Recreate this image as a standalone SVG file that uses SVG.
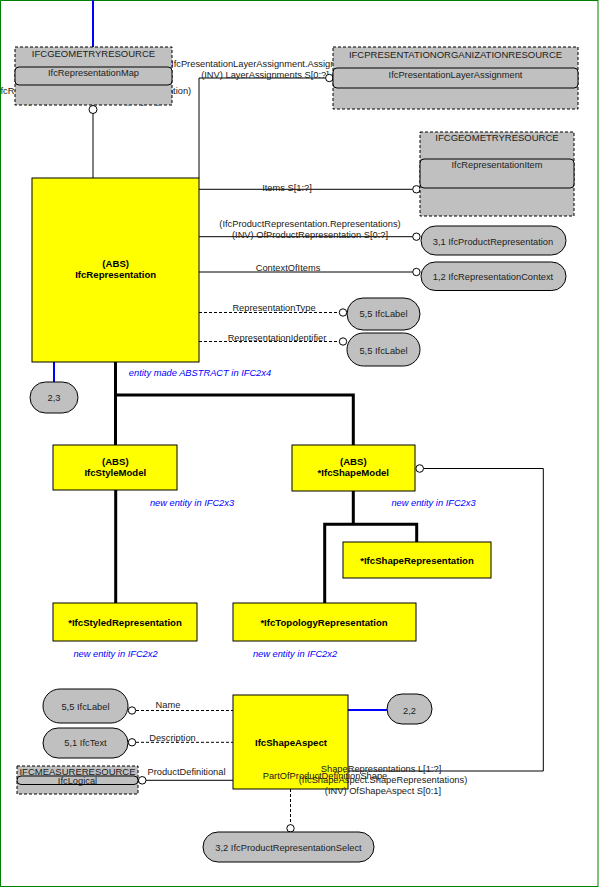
<svg xmlns="http://www.w3.org/2000/svg" width="600" height="888" viewBox="0 0 600 888">
<style>
text{font-family:"Liberation Sans",Arial,sans-serif;font-size:9.3px;fill:#202020}
.ent{fill:#ffff00;stroke:#000;stroke-width:1}
.ref{fill:#c0c0c0;stroke:#000;stroke-width:1;stroke-dasharray:3,2}
.inner{fill:#c0c0c0;stroke:#000;stroke-width:1}
.pill{fill:#c0c0c0;stroke:#000;stroke-width:1}
.b{font-weight:bold;font-size:9.6px;fill:#000}
.c{text-anchor:middle}
.note{font-style:italic;fill:#0000ff;text-anchor:middle}
.ln{fill:none;stroke:#000;stroke-width:1}
.dash{fill:none;stroke:#000;stroke-width:1;stroke-dasharray:3,2}
.inh{fill:none;stroke:#000;stroke-width:3}
.blue{fill:none;stroke:#0000ff;stroke-width:2}
.o{fill:#fff;stroke:#000;stroke-width:1}
</style>
<rect x="0.5" y="0.5" width="597.5" height="886" fill="#fff" stroke="#008000" stroke-width="1"/>
<g id="connectors">
<path class="blue" d="M93 0V47"/>
<path class="ln" d="M93 113.5V178"/>
<circle class="o" cx="93" cy="109.5" r="4"/>
<text class="c" x="93" y="94">(IfcRepresentationMap.MappedRepresentation)</text>
<text class="c" x="93" y="104">(INV) RepresentationMap S[0:1]</text>
<path class="ln" d="M199 178V78H325.5"/>
<text x="168" y="67">(IfcPresentationLayerAssignment.AssignedItems)</text>
<text class="c" x="265" y="78">(INV) LayerAssignments S[0:?]</text>
<circle class="o" cx="329.3" cy="78" r="3.7"/>
<path class="ln" d="M199 189.3H412.7"/>
<text class="c" x="287" y="191">Items S[1:?]</text>
<circle class="o" cx="416.4" cy="189.3" r="3.7"/>
<path class="ln" d="M199 236.7H412.7"/>
<text class="c" x="310" y="227">(IfcProductRepresentation.Representations)</text>
<text class="c" x="310" y="238">(INV) OfProductRepresentation S[0:?]</text>
<circle class="o" cx="416.4" cy="236.7" r="3.7"/>
<path class="ln" d="M199 272H412.7"/>
<text class="c" x="288" y="271">ContextOfItems</text>
<circle class="o" cx="416.4" cy="272" r="3.7"/>
<path class="dash" d="M199 312.5H339.3"/>
<text class="c" x="274" y="311">RepresentationType</text>
<circle class="o" cx="343" cy="312.5" r="3.7"/>
<path class="dash" d="M199 341.5H339.3"/>
<text class="c" x="277" y="341">RepresentationIdentifier</text>
<circle class="o" cx="343" cy="341.5" r="3.7"/>
<path class="blue" d="M54 362V382"/>
<path class="inh" d="M115.5 362V445M115.5 395H353.3V445"/>
<path class="inh" d="M115.7 490V603"/>
<path class="inh" d="M353.3 491V524.3M324.7 603V524.3H416.7V542"/>
<path class="ln" d="M423.5 468.5H543.3V771H348"/>
<circle class="o" cx="419.7" cy="468.5" r="3.8"/>
<path class="dash" d="M136 710.5H233"/>
<text class="c" x="168" y="708">Name</text>
<circle class="o" cx="132" cy="710.5" r="3.7"/>
<path class="dash" d="M136 742.3H233"/>
<text class="c" x="172.5" y="741">Description</text>
<circle class="o" cx="132" cy="742.3" r="3.7"/>
<path class="ln" d="M146 780.3H233"/>
<text class="c" x="186.5" y="775">ProductDefinitional</text>
<circle class="o" cx="142.2" cy="780.3" r="3.8"/>
<path class="blue" d="M348 710H387"/>
<path class="dash" d="M290.5 789V824.5"/>
<circle class="o" cx="290.5" cy="828.3" r="3.7"/>
</g>
<g id="IfcRepresentationMap">
<rect class="ref" x="15" y="47" width="157" height="58"/>
<rect class="inner" x="15" y="67" width="157" height="18" rx="4"/>
<text class="c" x="93.5" y="57" style="font-size:9.5px">IFCGEOMETRYRESOURCE</text>
<text class="c" x="93.5" y="76">IfcRepresentationMap</text>
</g>
<g id="IfcPresentationLayerAssignment">
<rect class="ref" x="333" y="47" width="245" height="62"/>
<rect class="inner" x="333" y="68" width="245" height="20" rx="4"/>
<text class="c" x="455.5" y="58" style="font-size:9.5px">IFCPRESENTATIONORGANIZATIONRESOURCE</text>
<text class="c" x="455.5" y="78">IfcPresentationLayerAssignment</text>
</g>
<g id="IfcRepresentationItem">
<rect class="ref" x="420" y="132" width="154" height="84"/>
<rect class="inner" x="420" y="159" width="154" height="29" rx="4"/>
<text class="c" x="497" y="141" style="font-size:9.5px">IFCGEOMETRYRESOURCE</text>
<text class="c" x="497" y="168">IfcRepresentationItem</text>
</g>
<g id="IfcRepresentation">
<rect class="ent" x="32" y="178" width="167" height="184"/>
<text class="b c" x="115.7" y="266.5">(ABS)</text>
<text class="b c" x="115.7" y="277.5">IfcRepresentation</text>
</g>
<g id="IfcProductRepresentation">
<rect class="pill" x="421" y="226" width="145" height="29" rx="14.5"/>
<text class="c" x="493" y="245">3,1 IfcProductRepresentation</text>
</g>
<g id="IfcRepresentationContext">
<rect class="pill" x="421" y="262" width="145" height="28.5" rx="14.2"/>
<text class="c" x="493" y="279.5">1,2 IfcRepresentationContext</text>
</g>
<g id="IfcLabel1">
<rect class="pill" x="347" y="298" width="73" height="32" rx="16"/>
<text class="c" x="383.5" y="317">5,5 IfcLabel</text>
</g>
<g id="IfcLabel2">
<rect class="pill" x="347" y="333" width="73" height="33" rx="16.5"/>
<text class="c" x="383.5" y="353.5">5,5 IfcLabel</text>
</g>
<g id="page23">
<rect class="pill" x="30" y="382" width="48" height="31" rx="15.5"/>
<text class="c" x="54" y="401">2,3</text>
</g>
<text class="note" x="200" y="376">entity made ABSTRACT in IFC2x4</text>
<g id="IfcStyleModel">
<rect class="ent" x="53" y="445" width="124" height="45"/>
<text class="b c" x="115.3" y="464.5">(ABS)</text>
<text class="b c" x="115.3" y="476">IfcStyleModel</text>
</g>
<text class="note" x="192" y="506">new entity in IFC2x3</text>
<g id="IfcShapeModel">
<rect class="ent" x="292" y="445" width="123" height="46"/>
<text class="b c" x="353.3" y="464.5">(ABS)</text>
<text class="b c" x="353.3" y="476">*IfcShapeModel</text>
</g>
<text class="note" x="433.5" y="506">new entity in IFC2x3</text>
<g id="IfcShapeRepresentation">
<rect class="ent" x="343" y="542" width="148" height="36"/>
<text class="b c" x="417" y="564">*IfcShapeRepresentation</text>
</g>
<g id="IfcStyledRepresentation">
<rect class="ent" x="53" y="603" width="144" height="38"/>
<text class="b c" x="125" y="626">*IfcStyledRepresentation</text>
</g>
<text class="note" x="115.5" y="657">new entity in IFC2x2</text>
<g id="IfcTopologyRepresentation">
<rect class="ent" x="233" y="603" width="183" height="38"/>
<text class="b c" x="324" y="626">*IfcTopologyRepresentation</text>
</g>
<text class="note" x="295" y="657">new entity in IFC2x2</text>
<g id="IfcLabel3">
<rect class="pill" x="43" y="689" width="85" height="34" rx="17"/>
<text class="c" x="85.5" y="710">5,5 IfcLabel</text>
</g>
<g id="IfcText">
<rect class="pill" x="43" y="728" width="85" height="30" rx="15"/>
<text class="c" x="85.5" y="746">5,1 IfcText</text>
</g>
<g id="IfcLogical">
<rect class="ref" x="17" y="766" width="121" height="28"/>
<text class="c" x="77.5" y="775" style="font-size:9.5px">IFCMEASURERESOURCE</text>
<rect class="inner" x="17" y="776" width="121" height="8.5" rx="4"/>
<text class="c" x="77.5" y="784">IfcLogical</text>
</g>
<g id="IfcShapeAspect">
<rect class="ent" x="233" y="695" width="115" height="94"/>
<text class="b c" x="291" y="746">IfcShapeAspect</text>
</g>
<g id="page22">
<rect class="pill" x="387" y="694" width="45" height="30" rx="15"/>
<text class="c" x="409.5" y="714">2,2</text>
</g>
<g id="IfcProductRepresentationSelect">
<rect class="pill" x="203" y="832" width="171" height="30" rx="15"/>
<text class="c" x="288.5" y="851">3,2 IfcProductRepresentationSelect</text>
</g>
<g id="connector-labels">
<text class="c" x="325" y="779">PartOfProductDefinitionShape</text>
<text class="c" x="381" y="772">ShapeRepresentations L[1:?]</text>
<text class="c" x="383" y="783">(IfcShapeAspect.ShapeRepresentations)</text>
<text class="c" x="383" y="794">(INV) OfShapeAspect S[0:1]</text>
</g>
</svg>
